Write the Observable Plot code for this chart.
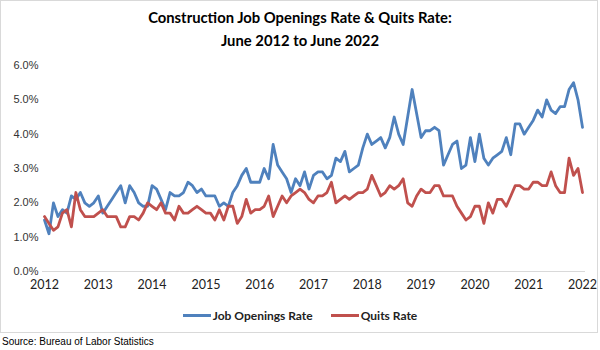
<!DOCTYPE html>
<html><head><meta charset="utf-8">
<script src="https://cdn.jsdelivr.net/npm/d3@7"></script>
<script src="https://cdn.jsdelivr.net/npm/@observablehq/plot@0.6"></script>
<style>
body{margin:0;background:#fff;}
#wrap{position:relative;width:600px;height:350px;background:#fff;overflow:hidden;}
#frame{position:absolute;left:0;top:0;width:598px;height:333px;border:1px solid #d9d9d9;box-sizing:border-box;}
#title{position:absolute;left:0;top:6px;width:600px;text-align:center;font-family:Lato,"Open Sans",sans-serif;font-weight:bold;font-size:14.8px;line-height:23px;color:#000;}
#chart{position:absolute;left:0;top:50px;}
#legend{position:absolute;left:0;top:308px;width:600px;display:flex;justify-content:center;gap:18px;font-family:Lato,"Open Sans",sans-serif;font-weight:bold;font-size:12px;color:#222;}
#legend span{display:flex;align-items:center;}
#legend i{display:inline-block;width:28px;height:3px;margin-right:2px;}
#source{position:absolute;left:2px;top:336px;font-family:"Liberation Sans",Arial,sans-serif;font-size:10px;color:#000;}
</style></head>
<body>
<div id="wrap">
  <div id="frame"></div>
  <div id="title">Construction Job Openings Rate &amp; Quits Rate:<br>June 2012 to June 2022</div>
  <div id="chart"></div>
  <div id="legend"><span><i style="background:#4f81bd"></i>Job Openings Rate</span><span><i style="background:#c0504d"></i>Quits Rate</span></div>
  <div id="source">Source: Bureau of Labor Statistics</div>
</div>
<script>
// Monthly values, June 2012 .. June 2022 (percent)
const jobOpenings = [
  1.5,1.1,2.0,1.6,1.8,1.7,2.2,2.1,2.3,2.0,1.9,2.0,2.2,1.7,1.9,2.1,2.3,2.5,2.0,2.5,2.3,2.0,1.9,1.9,
  2.5,2.4,2.1,1.8,2.3,2.2,2.2,2.3,2.6,2.5,2.3,2.4,2.2,2.2,2.2,1.9,2.0,1.9,2.3,2.5,2.8,3.0,2.6,2.6,
  2.6,3.0,2.7,3.7,3.1,2.9,2.7,2.3,2.7,2.5,2.9,2.4,2.8,2.9,2.9,2.7,2.8,3.3,3.2,3.5,2.9,3.0,3.1,3.6,
  4.0,3.7,3.8,3.9,3.6,3.9,4.5,4.0,3.7,4.5,5.3,4.6,3.9,4.1,4.1,4.2,4.1,3.1,3.4,3.7,3.8,3.0,3.1,3.9,
  3.2,4.0,3.3,3.1,3.3,3.4,3.5,3.9,3.4,4.3,4.3,4.0,4.2,4.4,4.7,4.5,5.0,4.7,4.6,4.8,4.8,5.3,5.5,5.0,4.2
];
const quits = [
  1.6,1.4,1.2,1.3,1.7,1.8,1.3,2.3,1.8,1.6,1.6,1.6,1.7,1.8,1.6,1.6,1.6,1.3,1.3,1.6,1.6,1.5,1.7,2.0,
  1.9,1.8,2.0,1.7,1.7,1.5,1.9,1.7,1.7,1.8,1.9,1.8,1.7,1.7,1.5,1.8,1.5,1.9,1.9,1.4,1.6,2.1,1.7,1.8,
  1.8,1.9,2.2,1.6,1.9,2.2,2.0,2.2,2.3,2.4,2.3,2.1,2.0,2.2,2.2,2.3,2.6,2.0,2.1,2.2,2.1,2.2,2.3,2.3,
  2.4,2.8,2.5,2.2,2.3,2.5,2.4,2.5,2.7,2.0,1.9,2.2,2.4,2.3,2.3,2.5,2.5,2.2,2.2,2.2,1.9,1.7,1.5,1.6,
  1.9,1.9,1.4,2.0,1.7,2.1,2.1,1.9,2.2,2.5,2.5,2.4,2.4,2.6,2.6,2.5,2.5,2.9,2.5,2.3,2.3,3.3,2.8,3.0,2.3
];
const yearLabels = ["2012","2013","2014","2015","2016","2017","2018","2019","2020","2021","2022"];
const yTicks = [0,1,2,3,4,5,6];

const rows = [];
jobOpenings.forEach((v,i)=>rows.push({m:i, v, s:"Job Openings Rate"}));
quits.forEach((v,i)=>rows.push({m:i, v, s:"Quits Rate"}));
const xTicks = yearLabels.map((_,k)=>k*12);

const chart = Plot.plot({
  width: 600,
  height: 250,
  marginTop: 15,
  marginBottom: 29,
  marginLeft: 44,
  marginRight: 18,
  style: {background:"transparent", overflow:"visible"},
  x: {domain:[0,120], ticks: xTicks, tickFormat: d => yearLabels[d/12], tickSize:0, tickPadding:9, label:null},
  y: {domain:[0,6], ticks: yTicks, tickFormat: d => d.toFixed(1)+"%", tickSize:0, tickPadding:6, label:null},
  color: {domain:["Job Openings Rate","Quits Rate"], range:["#4f81bd","#c0504d"]},
  marks: [
    Plot.axisY({ticks:yTicks, tickFormat:d=>d.toFixed(1)+"%", tickSize:0, tickPadding:6, fontSize:11, fontFamily:"Liberation Sans, Arial, sans-serif", fill:"#333", label:null}),
    Plot.axisX({ticks:xTicks, tickFormat:d=>yearLabels[d/12], tickSize:0, tickPadding:9, fontSize:12.5, fontFamily:"Lato, sans-serif", fill:"#222", label:null}),
    Plot.ruleY([0], {stroke:"#d9d9d9", strokeWidth:1.2, insetLeft:-2, insetRight:-3}),
    Plot.line(rows, {x:"m", y:"v", z:"s", stroke:"s", strokeWidth:2.8, strokeLinejoin:"round", strokeLinecap:"round"})
  ]
});
document.getElementById("chart").appendChild(chart);
</script>
</body></html>
